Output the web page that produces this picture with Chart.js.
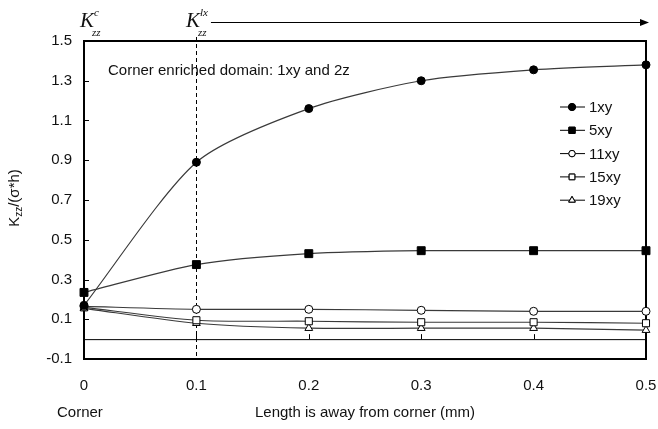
<!DOCTYPE html>
<html lang="en">
<head>
  <meta charset="UTF-8">
  <title>Kzz along the edge</title>
  <script src="https://cdn.jsdelivr.net/npm/chart.js"></script>
  <style>
    html, body { margin: 0; padding: 0; background: #fff; }
    #wrap { width: 658px; height: 429px; }
  </style>
</head>
<body>
  <div id="wrap"><canvas id="kzzChart" width="658" height="429"></canvas></div>

  <script>
    // values
    const xValues = [0, 0.1, 0.2, 0.3, 0.4, 0.5];
    const xTicks = [0, 0.1, 0.2, 0.3, 0.4, 0.5];
    const yTicks = [-0.1, 0.1, 0.3, 0.5, 0.7, 0.9, 1.1, 1.3, 1.5];
    const seriesNames = ['1xy', '5xy', '11xy', '15xy', '19xy'];
    const s1xy = [0.17, 0.89, 1.16, 1.30, 1.355, 1.38];
    const s5xy = [0.235, 0.375, 0.43, 0.445, 0.445, 0.445];
    const s11xy = [0.165, 0.15, 0.15, 0.145, 0.14, 0.14];
    const s15xy = [0.16, 0.095, 0.09, 0.085, 0.085, 0.08];
    const s19xy = [0.155, 0.08, 0.055, 0.055, 0.055, 0.045];
    const markerLine = 0.1;   // dashed line, end of the corner enriched domain

    const LINE = '#3a3a3a';
    const FONT = '"Liberation Sans", Arial, sans-serif';
    const SERIF = '"Liberation Serif", "Times New Roman", serif';

    const markers = [
      { pointStyle: 'circle', radius: 4, fill: '#000', legendRadius: 3.5 },
      { pointStyle: 'rect', radius: 5.6, fill: '#000', legendRadius: 4.4 },
      { pointStyle: 'circle', radius: 4, fill: '#fff', legendRadius: 3.2 },
      { pointStyle: 'rect', radius: 5, fill: '#fff', legendRadius: 4 },
      { pointStyle: 'triangle', radius: 4.5, fill: '#fff', legendRadius: 3.8 }
    ];

    const allSeries = [s1xy, s5xy, s11xy, s15xy, s19xy];

    const datasets = allSeries.map((vals, i) => ({
      label: seriesNames[i],
      data: xValues.map((x, j) => ({ x: x, y: vals[j] })),
      borderColor: LINE,
      borderWidth: 1.2,
      tension: 0.25,
      pointStyle: markers[i].pointStyle,
      pointRadius: markers[i].radius,
      pointHoverRadius: markers[i].radius,
      pointBackgroundColor: markers[i].fill,
      pointBorderColor: '#000',
      pointBorderWidth: 1,
      clip: false
    }));

    const framePlugin = {
      id: 'frame',
      beforeDatasetsDraw(chart) {
        const ctx = chart.ctx;
        const a = chart.chartArea;
        const xs = chart.scales.x, ys = chart.scales.y;
        ctx.save();
        ctx.strokeStyle = '#000';

        // zero line
        const y0 = ys.getPixelForValue(0);
        ctx.lineWidth = 1;
        ctx.beginPath();
        ctx.moveTo(a.left, y0 + 0.5);
        ctx.lineTo(a.right, y0 + 0.5);
        ctx.stroke();

        // small tick marks
        xTicks.forEach(v => {
          const px = Math.round(xs.getPixelForValue(v)) + 0.5;
          ctx.beginPath();
          ctx.moveTo(px, y0);
          ctx.lineTo(px, y0 - 5);
          ctx.stroke();
        });
        yTicks.forEach(v => {
          const py = Math.round(ys.getPixelForValue(v)) + 0.5;
          ctx.beginPath();
          ctx.moveTo(a.left, py);
          ctx.lineTo(a.left + 5, py);
          ctx.stroke();
        });

        // dashed line at x = 0.1
        const xd = Math.round(xs.getPixelForValue(markerLine)) + 0.5;
        ctx.setLineDash([4, 3]);
        ctx.beginPath();
        ctx.moveTo(xd, a.top - 4);
        ctx.lineTo(xd, a.bottom);
        ctx.stroke();
        ctx.setLineDash([]);

        // plot frame
        ctx.lineWidth = 2;
        ctx.strokeRect(a.left, a.top, a.right - a.left, a.bottom - a.top);
        ctx.restore();
      },
      afterDraw(chart) {
        const ctx = chart.ctx;
        const a = chart.chartArea;
        ctx.save();
        ctx.fillStyle = '#111';
        ctx.textBaseline = 'middle';

        // note inside the plot
        ctx.font = '15px ' + FONT;
        ctx.textAlign = 'left';
        ctx.fillText('Corner enriched domain: 1xy and 2z', 108, 71);

        // legend
        seriesNames.forEach((name, i) => {
          const ly = 107 + i * 23.3;
          ctx.strokeStyle = '#000';
          ctx.lineWidth = 1;
          ctx.beginPath();
          ctx.moveTo(560, ly);
          ctx.lineTo(585, ly);
          ctx.stroke();
          ctx.fillStyle = markers[i].fill;
          Chart.helpers.drawPoint(ctx, {
            pointStyle: markers[i].pointStyle,
            radius: markers[i].legendRadius,
            rotation: 0,
            borderWidth: 1
          }, 572, ly);
          ctx.fill();
          ctx.stroke();
          ctx.fillStyle = '#111';
          ctx.fillText(name, 589, ly + 1);
        });

        // axis titles
        ctx.textAlign = 'center';
        ctx.fillText('Length is away from corner (mm)', (a.left + a.right) / 2, 413);
        ctx.textAlign = 'left';
        ctx.fillText('Corner', 57, 413);

        // y title: K_zz/(σ*h), rotated
        ctx.save();
        ctx.translate(15, 198);
        ctx.rotate(-Math.PI / 2);
        ctx.font = '15px ' + FONT;
        const wK = ctx.measureText('K').width;
        const wRest = ctx.measureText('/(σ*h)').width;
        ctx.font = '10px ' + FONT;
        const wSub = ctx.measureText('zz').width;
        let tx = -(wK + wSub + wRest) / 2;
        ctx.font = '15px ' + FONT;
        ctx.fillText('K', tx, 0);
        tx += wK;
        ctx.font = '10px ' + FONT;
        ctx.fillText('zz', tx, 4);
        tx += wSub;
        ctx.font = '15px ' + FONT;
        ctx.fillText('/(σ*h)', tx, 0);
        ctx.restore();

        // K_zz^c and K_zz^lx labels above the plot
        ctx.textBaseline = 'alphabetic';
        function kLabel(x, sup) {
          ctx.font = 'italic 21px ' + SERIF;
          ctx.fillText('K', x, 27);
          const w = ctx.measureText('K').width;
          ctx.font = 'italic 11px ' + SERIF;
          ctx.fillText(sup, x + w, 16);
          ctx.fillText('zz', x + w - 2, 36);
          return x + w + ctx.measureText(sup).width;
        }
        kLabel(80, 'c');
        const endLx = kLabel(186, 'lx');

        // arrow to the right
        ctx.strokeStyle = '#000';
        ctx.lineWidth = 1;
        ctx.beginPath();
        ctx.moveTo(endLx + 3, 22.5);
        ctx.lineTo(642, 22.5);
        ctx.stroke();
        ctx.fillStyle = '#000';
        ctx.beginPath();
        ctx.moveTo(649, 22.5);
        ctx.lineTo(640, 19);
        ctx.lineTo(640, 26);
        ctx.closePath();
        ctx.fill();
        ctx.restore();
      }
    };

    new Chart(document.getElementById('kzzChart').getContext('2d'), {
      type: 'line',
      data: { datasets: datasets },
      options: {
        responsive: false,
        animation: false,
        events: [],
        layout: { padding: { top: 41, right: 12, left: 0, bottom: 0 } },
        plugins: { legend: { display: false }, tooltip: { enabled: false } },
        scales: {
          x: {
            type: 'linear',
            min: 0,
            max: 0.5,
            afterFit: s => { s.height = 70; s.paddingLeft = 0; s.paddingRight = 0; },
            afterBuildTicks: s => { s.ticks = xTicks.map(v => ({ value: v })); },
            grid: { display: false, drawTicks: false },
            border: { display: false },
            ticks: {
              padding: 18,
              color: '#111',
              font: { family: FONT, size: 15 },
              maxRotation: 0,
              callback: v => (v === 0 ? '0' : v.toFixed(1))
            }
          },
          y: {
            type: 'linear',
            min: -0.1,
            max: 1.5,
            afterFit: s => { s.width = 84; s.paddingTop = 0; s.paddingBottom = 0; },
            afterBuildTicks: s => { s.ticks = yTicks.map(v => ({ value: v })); },
            grid: { display: false, drawTicks: false },
            border: { display: false },
            ticks: {
              padding: 12,
              color: '#111',
              font: { family: FONT, size: 15 },
              callback: v => v.toFixed(1)
            }
          }
        }
      },
      plugins: [framePlugin]
    });
  </script>
</body>
</html>
